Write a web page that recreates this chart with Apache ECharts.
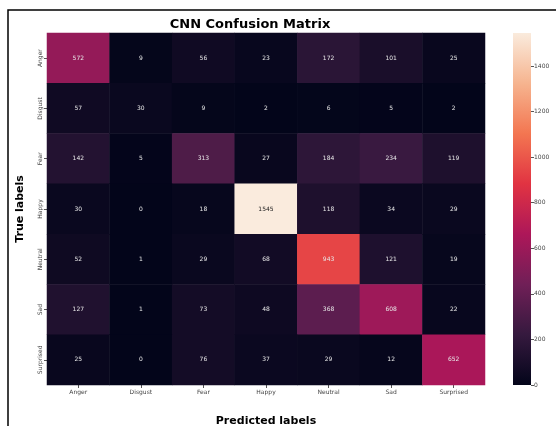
<!DOCTYPE html>
<html><head><meta charset="utf-8">
<script src="https://cdn.jsdelivr.net/npm/echarts@6/dist/echarts.min.js"></script>
<style>html,body{margin:0;padding:0;background:#fff}#c{width:556px;height:426px}</style>
</head><body><div id="c"></div>
<script>
const predictedLabels = ['Anger','Disgust','Fear','Happy','Neutral','Sad','Surprised'];
const trueLabels = ['Anger','Disgust','Fear','Happy','Neutral','Sad','Surprised'];
const rowAnger     = [572, 9, 56, 23, 172, 101, 25];
const rowDisgust   = [57, 30, 9, 2, 6, 5, 2];
const rowFear      = [142, 5, 313, 27, 184, 234, 119];
const rowHappy     = [30, 0, 18, 1545, 118, 34, 29];
const rowNeutral   = [52, 1, 29, 68, 943, 121, 19];
const rowSad       = [127, 1, 73, 48, 368, 608, 22];
const rowSurprised = [25, 0, 76, 37, 29, 12, 652];
const colorbarTicks = [0, 200, 400, 600, 800, 1000, 1200, 1400];
const colorMax = 1545;
const rocket = ['#03051a','#35193e','#701f57','#ad1759','#e13342','#f37651','#f6b48f','#faebdd'];

const rows = [rowAnger,rowDisgust,rowFear,rowHappy,rowNeutral,rowSad,rowSurprised];
const cells = [];
rows.forEach((r, yi) => r.forEach((v, xi) => {
  const item = {value: [xi, yi, v]};
  if (v / colorMax > 0.8) item.label = {color: '#222'};
  cells.push(item);
}));

const font = 'DejaVu Sans';
const chart = echarts.init(document.getElementById('c'));
chart.setOption({
  animation: false,
  textStyle: {fontFamily: font},
  graphic: [
    {type: 'rect', shape: {x: 8, y: 10, width: 700, height: 700}, style: {fill: 'none', stroke: '#000', lineWidth: 1.5}, silent: true},
    {type: 'text', x: 250, y: 25, style: {text: 'CNN Confusion Matrix', font: 'bold 13px "DejaVu Sans"', fill: '#000', textAlign: 'center', textVerticalAlign: 'middle'}}
  ],
  grid: [
    {left: 47, top: 33, width: 438, height: 352, outerBoundsMode: 'none', containLabel: false},
    {left: 513, top: 33, width: 18, height: 352, outerBoundsMode: 'none', containLabel: false}
  ],
  xAxis: [
    {type: 'category', gridIndex: 0, data: predictedLabels, position: 'bottom',
     axisLine: {show: false}, splitLine: {show: false}, splitArea: {show: false},
     axisTick: {show: true, alignWithLabel: true, length: 3, lineStyle: {color: '#555'}},
     axisLabel: {fontSize: 6, color: '#444', margin: 4},
     name: 'Predicted labels', nameLocation: 'middle', nameGap: 31,
     nameTextStyle: {fontSize: 11, fontWeight: 'bold', color: '#000'}},
    {type: 'category', gridIndex: 1, data: ['c'], show: false}
  ],
  yAxis: [
    {type: 'category', gridIndex: 0, data: trueLabels, inverse: true,
     axisLine: {show: false}, splitLine: {show: false}, splitArea: {show: false},
     axisTick: {show: true, alignWithLabel: true, length: 3, lineStyle: {color: '#555'}},
     axisLabel: {fontSize: 6, color: '#444', rotate: 90, margin: 4},
     name: 'True labels', nameLocation: 'middle', nameGap: 21, nameRotate: 90,
     nameTextStyle: {fontSize: 11, fontWeight: 'bold', color: '#000'}},
    {type: 'value', gridIndex: 1, min: 0, max: colorMax, position: 'right',
     axisLine: {show: false}, splitLine: {show: false},
     axisTick: {show: true, length: 3, lineStyle: {color: '#555'}, customValues: colorbarTicks},
     axisLabel: {fontSize: 6, color: '#444', margin: 3, customValues: colorbarTicks, formatter: v => String(v)}}
  ],
  visualMap: {show: false, type: 'continuous', min: 0, max: colorMax, seriesIndex: 0, inRange: {color: rocket}},
  series: [
    {type: 'heatmap', xAxisIndex: 0, yAxisIndex: 0, data: cells,
     label: {show: true, fontSize: 6, color: '#e8e8e8'}, itemStyle: {borderWidth: 0}},
    {type: 'bar', xAxisIndex: 1, yAxisIndex: 1, data: [colorMax], barWidth: '100%',
     itemStyle: {color: new echarts.graphic.LinearGradient(0, 0, 0, 1,
       rocket.slice().reverse().map((c, i) => ({offset: i / (rocket.length - 1), color: c})))}}
  ]
});
</script></body></html>
